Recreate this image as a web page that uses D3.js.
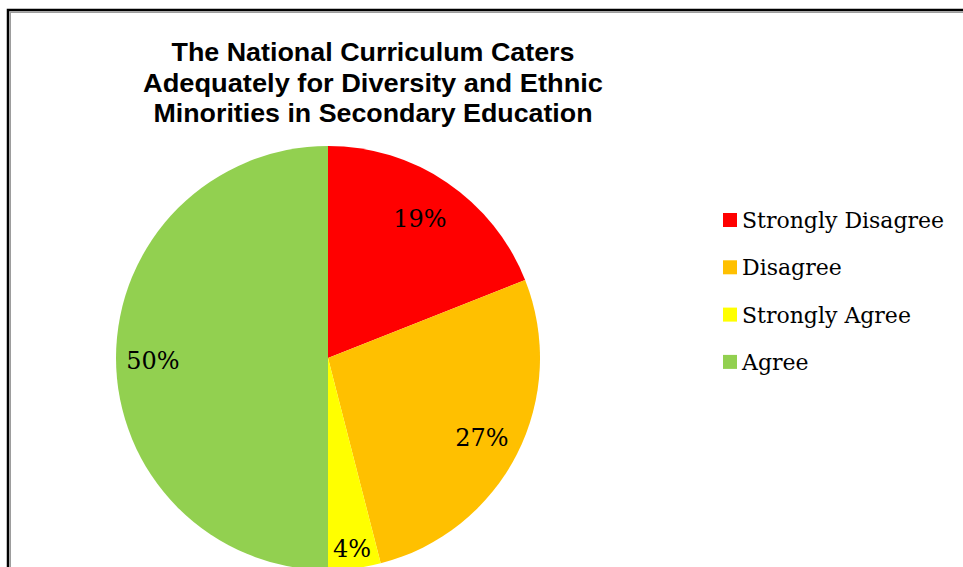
<!DOCTYPE html>
<html><head><meta charset="utf-8">
<script src="https://cdn.jsdelivr.net/npm/d3@7"></script>
<style>body{margin:0;background:#fff;}svg{display:block;}</style>
</head><body>
<svg id="chart" width="963" height="567"></svg>
<script>
const categories = ["Strongly Disagree", "Disagree", "Strongly Agree", "Agree"];
const values = [19, 27, 4, 50];
const labels = ["19%", "27%", "4%", "50%"];
const colors = ["#FF0000", "#FFC000", "#FFFF00", "#92D050"];
const titleLines = ["The National Curriculum Caters", "Adequately for Diversity and Ethnic", "Minorities in Secondary Education"];

const svg = d3.select("#chart");
// frame
svg.append("rect").attr("x", 8).attr("y", 10).attr("width", 1000).attr("height", 600)
  .attr("fill", "none").attr("stroke", "#000").attr("stroke-width", 2.5);
svg.append("rect").attr("x", 10.2).attr("y", 12.2).attr("width", 1000).attr("height", 600)
  .attr("fill", "none").attr("stroke", "#999").attr("stroke-width", 1.5);

// title
const titleW = [403, 460, 439];
svg.append("g").selectAll("text").data(titleLines).join("text")
  .attr("x", 373).attr("y", (d, i) => 61 + i * 30.5)
  .attr("text-anchor", "middle")
  .attr("font-family", "Liberation Sans, Arial, sans-serif")
  .attr("font-weight", "bold").attr("font-size", 25)
  .attr("textLength", (d, i) => titleW[i]).attr("lengthAdjust", "spacingAndGlyphs")
  .attr("fill", "#000").text(d => d);

// pie
const cx = 328, cy = 358, r = 212;
const pie = d3.pie().sort(null).value(d => d)(values);
const arc = d3.arc().innerRadius(0).outerRadius(r);
const g = svg.append("g").attr("transform", `translate(${cx},${cy})`);
g.selectAll("path").data(pie).join("path")
  .attr("d", arc).attr("fill", (d, i) => colors[i]);

const labelPos = [[420, 218], [482, 437], [352, 548], [153, 360]];
g.selectAll("text").data(pie).join("text")
  .attr("transform", (d, i) => `translate(${labelPos[i][0] - cx},${labelPos[i][1] - cy})`)
  .attr("text-anchor", "middle").attr("dy", "0.36em")
  .attr("font-family", "DejaVu Serif, serif").attr("font-size", 24)
  .attr("fill", "#000").text((d, i) => labels[i]);

// legend
const leg = svg.append("g").attr("transform", "translate(723,213)");
const row = leg.selectAll("g").data(categories).join("g")
  .attr("transform", (d, i) => `translate(0,${i * 47.3})`);
row.append("rect").attr("width", 14).attr("height", 14).attr("fill", (d, i) => colors[i]);
row.append("text").attr("x", 19).attr("y", 7).attr("dy", "0.36em")
  .attr("font-family", "DejaVu Serif, serif").attr("font-size", 22)
  .attr("fill", "#000").text(d => d);
</script>
</body></html>
